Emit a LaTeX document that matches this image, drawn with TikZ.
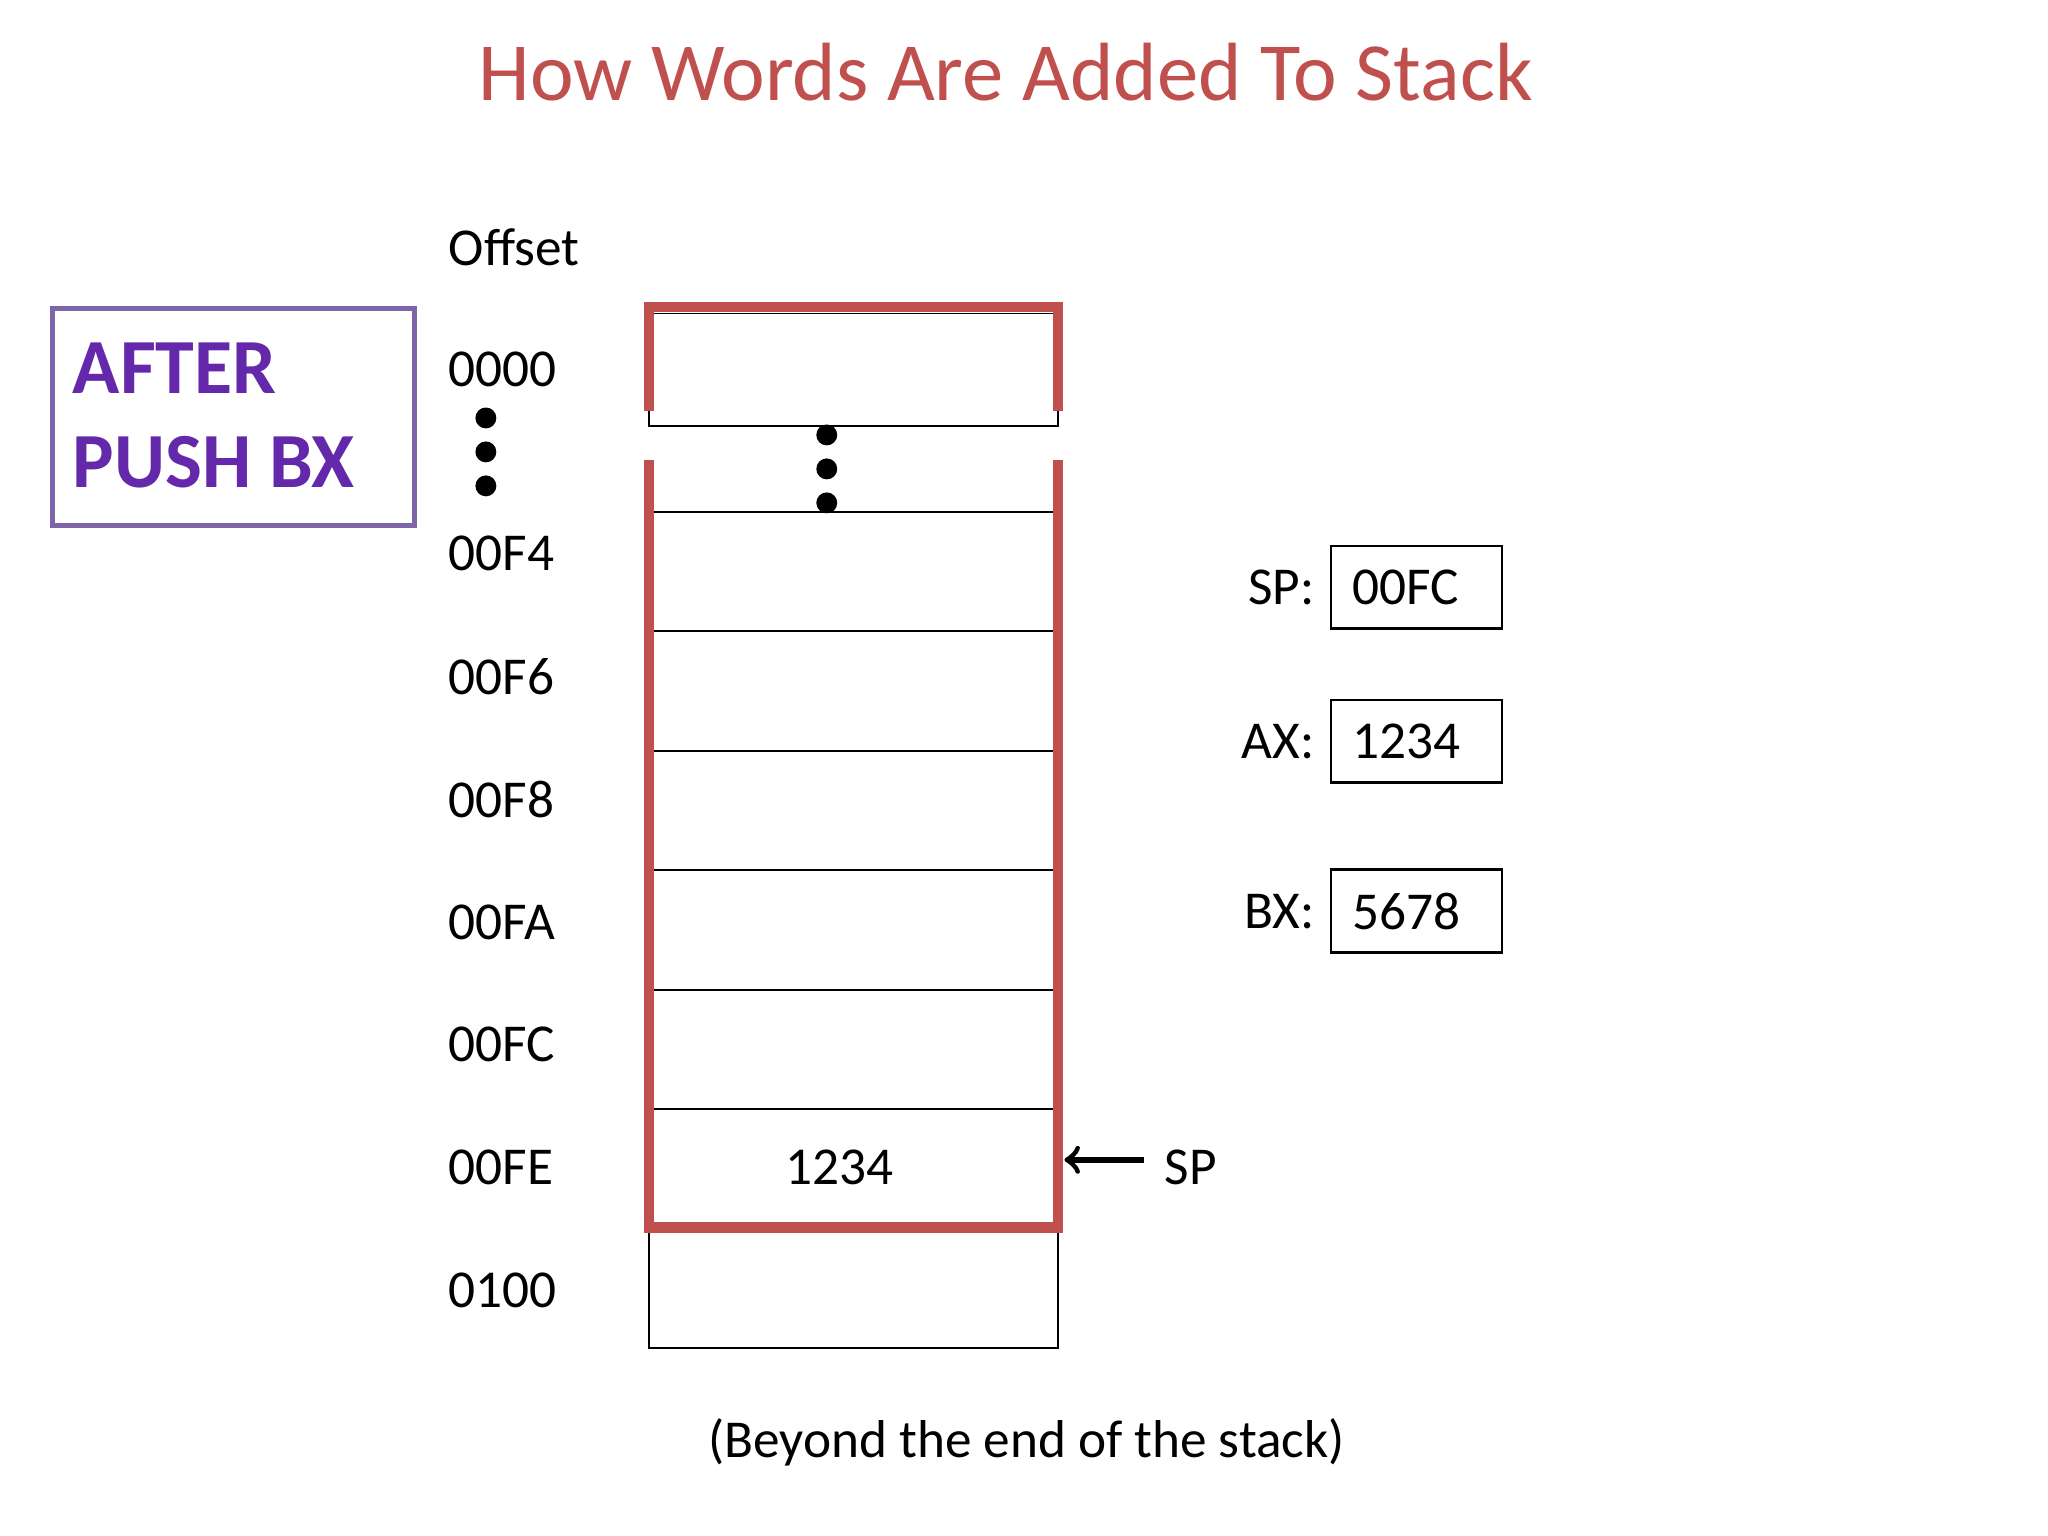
\documentclass[tikz,border=0pt]{standalone}
\usepackage{fontspec}
\setmainfont{Carlito}
\definecolor{tred}{RGB}{192,80,77}
\definecolor{pbox}{RGB}{128,100,170}
\definecolor{ptxt}{RGB}{100,40,170}
\begin{document}
\begin{tikzpicture}[x=0.01cm,y=-0.01cm,
 lab/.style={anchor=west,font=\fontsize{11.6}{14}\selectfont,inner sep=0},
 reg/.style={anchor=east,font=\fontsize{11.6}{14}\selectfont,inner sep=0},
 thin/.style={draw=black,line width=0.35pt},
 redl/.style={draw=tred,line width=2.3pt},
 dot/.style={circle,fill=black,inner sep=0,minimum size=0.16cm}]
\useasboundingbox (0,0) rectangle (1568,1176);
\node[font=\fontsize{18}{22}\selectfont,text=tred] (title) at (770,55) {How Words Are Added To Stack};
% after box
\node[draw=pbox,line width=1.2pt,minimum width=2.77cm,minimum height=1.66cm,anchor=north west] (after) at (38,234) {};
\node[anchor=west,inner sep=0,font=\fontsize{17}{18}\selectfont\bfseries,text=ptxt] (a1) at (55,282) {AFTER};
\node[anchor=west,inner sep=0,font=\fontsize{17}{18}\selectfont\bfseries,text=ptxt] (a2) at (55,354) {PUSH BX};
% labels
\node[lab] (off) at (343,189) {Offset};
\node[lab] (l0) at (343,283) {0000};
\node[lab] (l4) at (343,424) {00F4};
\node[lab] (l6) at (343,518) {00F6};
\node[lab] (l8) at (343,612) {00F8};
\node[lab] (la) at (343,706) {00FA};
\node[lab] (lc) at (343,800) {00FC};
\node[lab] (le) at (343,894) {00FE};
\node[lab] (l1) at (343,988) {0100};
\foreach \y [count=\i] in {320,346,372}{\node[dot] (ld\i) at (372,\y) {};}
\foreach \y [count=\i] in {333,359,385}{\node[dot] (md\i) at (633,\y) {};}
% stack
\draw[thin] (497,240) rectangle (810,326);
\draw[redl] (497,315) -- (497,235) -- (810,235) -- (810,315);
\foreach \y in {392,483,575,666,758,849}{\draw[thin] (497,\y) -- (810,\y);}
\draw[thin] (497,940) rectangle (810,1032);
\draw[redl] (497,352) -- (497,940) -- (810,940) -- (810,352);
\node[lab,anchor=center] (v) at (643,894) {1234};
\node[lab] (sp) at (891,894) {SP};
\coordinate (sptip) at (815,888);
\draw[->,line width=1.2pt] (sp.west)+(-15,-6) -- (sptip);
% registers
\foreach \n/\y/\v in {SP:/450/00FC,AX:/568/1234,BX:/698/5678}{
 \draw[thin,line width=0.6pt] (1019,\y-32) rectangle (1150,\y+31);
 \node[reg] at (1007,\y) {\n};
 \node[lab] at (1035,\y) {\v};
}
\node[font=\fontsize{11.6}{14}\selectfont] (cap) at (786,1104) {(Beyond the end of the stack)};
\end{tikzpicture}
\end{document}
